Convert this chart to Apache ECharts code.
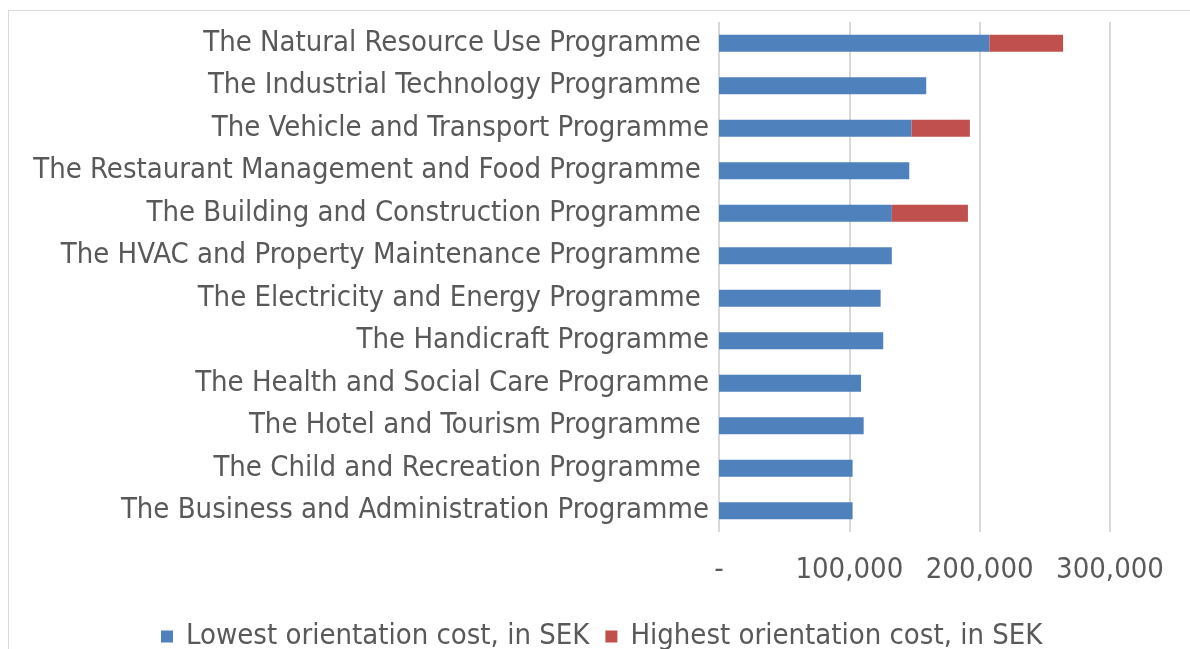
<!DOCTYPE html>
<html><head><meta charset="utf-8">
<script src="https://cdn.jsdelivr.net/npm/echarts@6/dist/echarts.min.js"></script>
<style>html,body{margin:0;padding:0;background:#fff;}#c{width:1190px;height:649px;}
#frame{position:absolute;left:8px;top:10px;width:1200px;height:700px;border:1px solid #d9d9d9;box-sizing:border-box;pointer-events:none;}</style>
</head><body><div id="c"></div><div id="frame"></div>
<script>
const categories = [
  "The Natural Resource Use Programme ",
  "The Industrial Technology Programme ",
  "The Vehicle and Transport Programme",
  "The Restaurant Management and Food Programme ",
  "The Building and Construction Programme ",
  "The HVAC and Property Maintenance Programme ",
  "The Electricity and Energy Programme ",
  "The Handicraft Programme",
  "The Health and Social Care Programme",
  "The Hotel and Tourism Programme ",
  "The Child and Recreation Programme ",
  "The Business and Administration Programme"
];
const lowestCost = [207500, 159000, 147700, 146000, 132600, 132600, 124000, 126000, 109000, 111000, 102500, 102500];
const highestExtra = [56500, null, 44800, null, 58400, null, null, null, null, null, null, null];
const seriesNames = ["Lowest orientation cost, in SEK", "Highest orientation cost, in SEK"];
const xTicks = [0, 100000, 200000, 300000];

const FONT = "'DejaVu Sans Condensed', 'DejaVu Sans', sans-serif";
const chart = echarts.init(document.getElementById('c'), null, {renderer: 'canvas'});
chart.setOption({
  animation: false,
  backgroundColor: '#ffffff',
  grid: {left: 719, right: 80, top: 22, bottom: 117, containLabel: false},
  legend: {
    top: 617, left: 156,
    itemWidth: 12, itemHeight: 12, itemGap: 16,
    icon: 'rect',
    textStyle: {fontFamily: FONT, fontSize: 29, color: '#595959', padding: [0,0,0,8]},
    data: seriesNames
  },
  xAxis: {
    type: 'value', min: xTicks[0], max: xTicks[xTicks.length-1], interval: 100000,
    axisLine: {show: false}, axisTick: {show: false},
    splitLine: {lineStyle: {color: '#d9d9d9', width: 2}},
    axisLabel: {
      fontFamily: FONT, fontSize: 29, color: '#595959', margin: 24,
      formatter: v => v === 0 ? '-' : v.toLocaleString('en-US')
    }
  },
  yAxis: {
    type: 'category', inverse: true, data: categories,
    axisLine: {show: false}, axisTick: {show: false},
    axisLabel: {fontFamily: FONT, fontSize: 29, color: '#595959', margin: 10}
  },
  series: [
    {name: seriesNames[0], type: 'bar', stack: 'cost', data: lowestCost, barWidth: '40%',
     itemStyle: {color: '#4f81bd'}},
    {name: seriesNames[1], type: 'bar', stack: 'cost', data: highestExtra, barWidth: '40%',
     itemStyle: {color: '#c0504d'}}
  ]
});
</script></body></html>
